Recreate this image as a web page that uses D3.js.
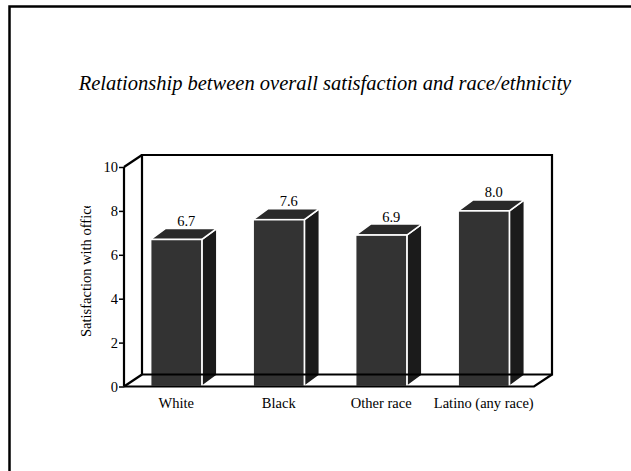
<!DOCTYPE html>
<html>
<head>
<meta charset="utf-8">
<script src="https://cdn.jsdelivr.net/npm/d3@7"></script>
<style>
  html, body { margin: 0; padding: 0; background: #fff; }
  svg { display: block; }
  svg text { font-family: "Liberation Serif", "Times New Roman", Times, "DejaVu Serif", serif; }
</style>
</head>
<body>
<svg id="chart" width="631" height="471"></svg>
<script>
// Mean satisfaction by race/ethnicity
const categories = ["White", "Black", "Other race", "Latino (any race)"];
const values = [6.7, 7.6, 6.9, 8.0];
const valueLabels = ["6.7", "7.6", "6.9", "8.0"];
const yTicks = [0, 2, 4, 6, 8, 10];

const svg = d3.select("#chart");

// page frame (only its top and left edges fall inside the view)
svg.append("rect")
  .attr("x", 9.5).attr("y", 6.5)
  .attr("width", 800).attr("height", 800)
  .attr("fill", "none").attr("stroke", "#000").attr("stroke-width", 2.5);

svg.append("text")
  .attr("x", 325).attr("y", 90)
  .attr("text-anchor", "middle")
  .style("font-style", "italic")
  .style("font-size", "20.5px")
  .text("Relationship between overall satisfaction and race/ethnicity");

// plot geometry
const x0 = 124, x1 = 534, yTop = 167, yBase = 386.5;
const wallDx = 18, wallDy = 12;     // depth of the back wall
const barDx = 15, barDy = 11;       // depth of each bar

const y = d3.scaleLinear().domain([0, 10]).range([yBase, yTop]);
const x = d3.scaleBand().domain(categories).range([x0 + 1, x1 + 1]).paddingInner(0.5).paddingOuter(0.25);

const frame = svg.append("g")
  .attr("fill", "none").attr("stroke", "#000").attr("stroke-width", 2.2)
  .attr("stroke-linejoin", "miter");

// back wall and floor
frame.append("path").attr("d", [
  "M", x0 + wallDx, y(0) - wallDy, "L", x0 + wallDx, y(10) - wallDy,
  "L", x1 + wallDx, y(10) - wallDy, "L", x1 + wallDx, y(0) - wallDy,
  "L", x0 + wallDx, y(0) - wallDy
].join(" "));
frame.append("path").attr("d", ["M", x0, y(10), "L", x0 + wallDx, y(10) - wallDy].join(" "));
frame.append("path").attr("d", ["M", x0, y(0), "L", x0 + wallDx, y(0) - wallDy].join(" "));

// bars: front, top and side faces
const bars = svg.append("g").selectAll("g").data(categories).join("g");
bars.each(function (c, i) {
  const g = d3.select(this);
  const bx = x(c), bw = x.bandwidth(), top = y(values[i]), base = y(0);
  g.append("path")
    .attr("d", `M${bx + bw},${top} L${bx + bw + barDx},${top - barDy} L${bx + bw + barDx},${base - barDy} L${bx + bw},${base} Z`)
    .attr("fill", "#1b1b1b").attr("stroke", "#fff").attr("stroke-width", 1.6);
  g.append("path")
    .attr("d", `M${bx},${top} L${bx + barDx},${top - barDy} L${bx + bw + barDx},${top - barDy} L${bx + bw},${top} Z`)
    .attr("fill", "#2a2a2a").attr("stroke", "#fff").attr("stroke-width", 1.6);
  g.append("rect")
    .attr("x", bx).attr("y", top).attr("width", bw).attr("height", base - top)
    .attr("fill", "#333").attr("stroke", "#fff").attr("stroke-width", 1.6);
  g.append("text")
    .attr("x", bx + bw / 2 + 10).attr("y", top - barDy - 2.5)
    .attr("text-anchor", "middle")
    .style("font-size", "14.5px")
    .text(valueLabels[i]);
});

// front floor line and y axis
frame.raise();
svg.append("path")
  .attr("d", ["M", x0, y(0), "L", x1, y(0), "L", x1 + wallDx, y(0) - wallDy].join(" "))
  .attr("fill", "none").attr("stroke", "#000").attr("stroke-width", 2.2);

const yAxis = svg.append("g")
  .attr("transform", `translate(${x0},0)`)
  .call(d3.axisLeft(y).tickValues(yTicks).tickSize(5).tickPadding(1).tickFormat(d3.format("d")));
yAxis.attr("font-family", null);
yAxis.select(".domain").attr("stroke-width", 2.2).attr("d", `M0,${y(10)}V${y(0)}`);
yAxis.selectAll(".tick line").attr("stroke-width", 1.5);
yAxis.selectAll(".tick text").style("font-size", "14.5px").attr("fill", "#000");

// category labels
svg.append("g").selectAll("text").data(categories).join("text")
  .attr("x", d => x(d) + x.bandwidth() / 2)
  .attr("y", 407.5)
  .attr("text-anchor", "middle")
  .style("font-size", "14.5px")
  .text(d => d);

// y-axis title, cut off where its box ends
svg.append("clipPath").attr("id", "ytitle-clip")
  .append("rect").attr("x", 70).attr("y", 206).attr("width", 30).attr("height", 200);
svg.append("g").attr("clip-path", "url(#ytitle-clip)")
  .append("text")
  .attr("transform", "translate(91,337) rotate(-90)")
  .style("font-size", "14.5px")
  .text("Satisfaction with office");
</script>
</body>
</html>
